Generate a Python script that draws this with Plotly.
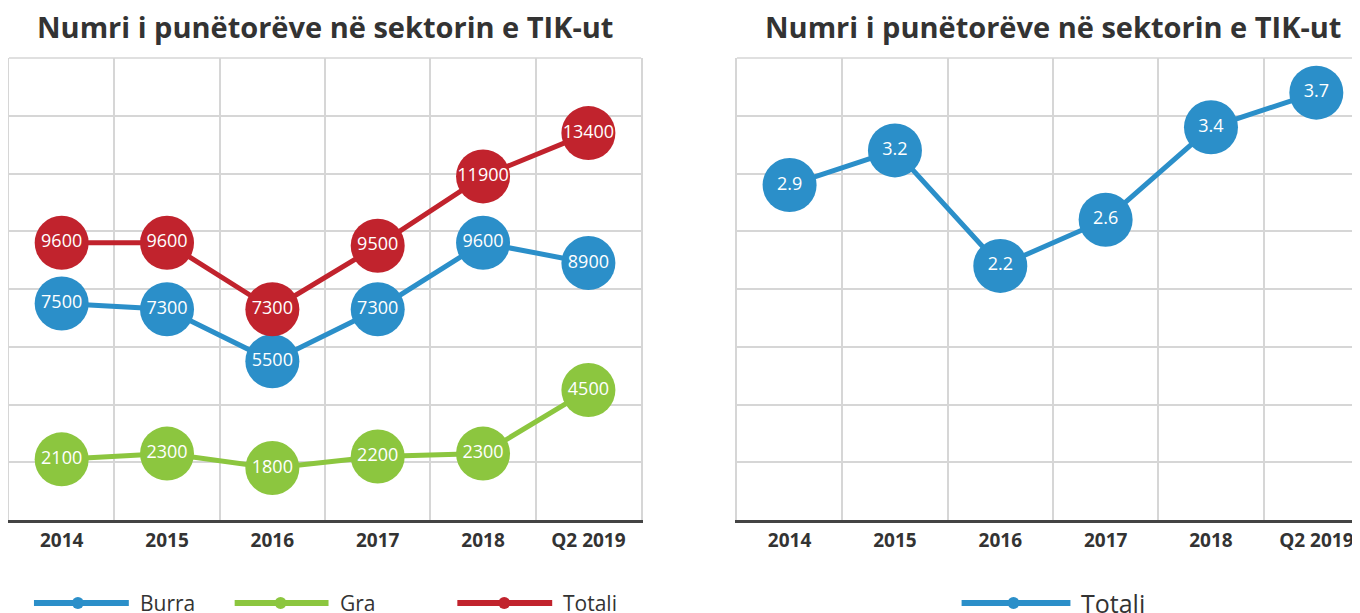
import plotly.graph_objects as go

# data
categories = ['2014', '2015', '2016', '2017', '2018', 'Q2 2019']
burra = [7500, 7300, 5500, 7300, 9600, 8900]
gra = [2100, 2300, 1800, 2200, 2300, 4500]
totali = [9600, 9600, 7300, 9500, 11900, 13400]
totali_right = [2.9, 3.2, 2.2, 2.6, 3.4, 3.7]

title_text = 'Numri i punëtorëve në sektorin e TIK-ut'

blue = '#2b8fc9'
green = '#8cc63f'
red = '#c1232d'
grid = '#d6d6d6'
dark = '#333333'

W, H = 1360, 613
PAD = 8  # page body margin in the browser


def px_x(x):
    return (x - PAD) / W


def px_y(y):
    return 1 - (y - PAD) / H


fig = go.Figure()

def add_series(values, color, name, xa, ya, fmt):
    fig.add_trace(go.Scatter(
        x=categories, y=values, name=name, xaxis=xa, yaxis=ya,
        mode='lines+markers+text',
        line=dict(color=color, width=5),
        marker=dict(color=color, size=54),
        text=[fmt(v) for v in values], textposition='middle center',
        textfont=dict(color='white', size=18, family='Open Sans'),
        cliponaxis=False, showlegend=False))

add_series(burra, blue, 'Burra', 'x', 'y', lambda v: str(v))
add_series(gra, green, 'Gra', 'x', 'y', lambda v: str(v))
add_series(totali, red, 'Totali', 'x', 'y', lambda v: str(v))
add_series(totali_right, blue, 'Totali', 'x2', 'y2', lambda v: f'{v:.1f}')

xcommon = dict(type='category', tickson='boundaries', showgrid=True,
               gridcolor=grid, gridwidth=1.5, showline=True, linecolor='#444444',
               linewidth=2.5, ticks='', ticklabelstandoff=1, zeroline=False,
               tickfont=dict(family='Open Sans', size=19, color=dark, weight='bold'),
               fixedrange=True)
ycommon = dict(showgrid=True, gridcolor=grid, gridwidth=1.5, showticklabels=False,
               ticks='', zeroline=False, showline=True, mirror=True,
               linecolor=grid, linewidth=1.5, fixedrange=True)

fig.update_layout(
    width=W, height=H,
    margin=dict(l=0, r=0, t=0, b=0),
    paper_bgcolor='white', plot_bgcolor='white',
    xaxis=dict(xcommon, domain=[px_x(9), px_x(642)], range=[-0.5, 5.5]),
    xaxis2=dict(xcommon, domain=[px_x(738), 1], range=[-0.5, 5.5 - 3 / 105.5],
                anchor='y2'),
    yaxis=dict(ycommon, domain=[px_y(520), px_y(58)], range=[0, 16000], dtick=2000),
    yaxis2=dict(ycommon, domain=[px_y(520), px_y(58)], range=[0, 4], dtick=0.5,
                anchor='x2'),
    showlegend=False,
)

# top frame lines of both plots
for xr, yr in (('x domain', 'y domain'), ('x2 domain', 'y2 domain')):
    fig.add_shape(type='line', xref=xr, yref=yr, x0=0, x1=1, y0=1, y1=1,
                  line=dict(color=grid, width=1.5), layer='below')

# titles
for cx in (325.5, 1054.5):
    fig.add_annotation(x=px_x(cx), y=px_y(27), xref='paper', yref='paper',
                       text=f'<b>{title_text}</b>', showarrow=False,
                       font=dict(family='Open Sans', size=29, color=dark),
                       xanchor='center', yanchor='middle')

# custom legend (long line with dot, like the original)
legend_items = [('Burra', blue, 34, 129, 78, 21), ('Gra', green, 235, 329, 281, 21),
                ('Totali', red, 458, 553, 505, 21), ('Totali', blue, 963, 1072, 1015, 25)]
ly = 603
for name, color, x0, x1, cx, fs in legend_items:
    fig.add_shape(type='line', xref='paper', yref='paper',
                  x0=px_x(x0), x1=px_x(x1), y0=px_y(ly), y1=px_y(ly),
                  line=dict(color=color, width=6))
    fig.add_shape(type='circle', xref='paper', yref='paper',
                  x0=px_x(cx - 6), x1=px_x(cx + 6), y0=px_y(ly + 6), y1=px_y(ly - 6),
                  fillcolor=color, line=dict(width=0))
    fig.add_annotation(x=px_x(x1 + 9), y=px_y(ly), xref='paper', yref='paper',
                       text=name, showarrow=False, xanchor='left', yanchor='middle',
                       font=dict(family='Open Sans', size=fs, color=dark))

fig.write_html('out.html')
